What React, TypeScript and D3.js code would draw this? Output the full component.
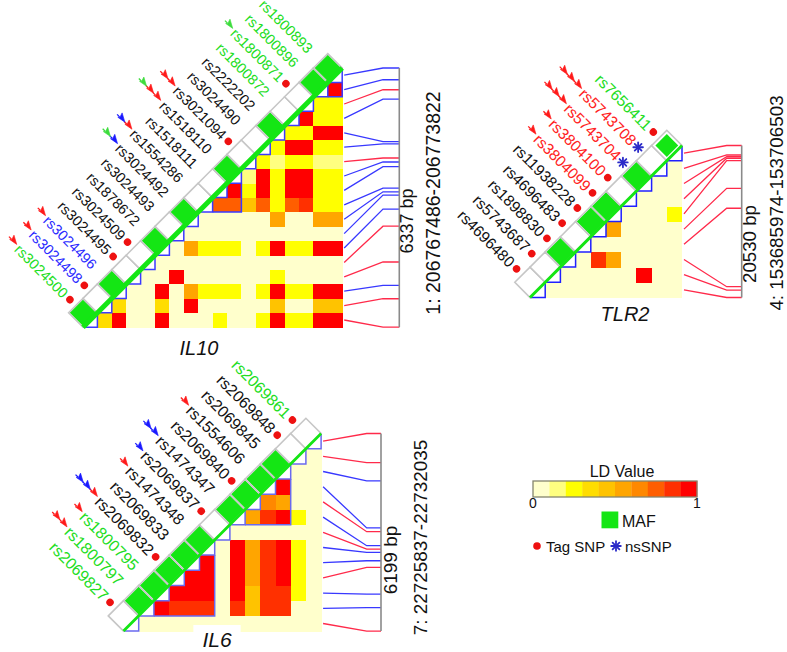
import React from "react";
import * as d3 from "d3";

const FONT = "'Liberation Sans', Arial, Helvetica, sans-serif";

// ---------- shared scales ----------
const LD_COLORS = ["#ffffcc", "#ffff80", "#ffff00", "#ffdd00", "#ffc300", "#ffa500", "#ff8800", "#ff5e00", "#ff3000", "#ff0000"];
const LD_TICKS = ["0", "1"];
const ldColor = d3.scaleQuantize<string>().domain([0, 1]).range(LD_COLORS);
const mafScale = d3.scaleSqrt().domain([0, 0.5]).range([0, 0.97]);

const TEXT_COLORS: Record<string, string> = { k: "#111111", g: "#22dd22", b: "#2a2aff", r: "#ff2222" };
const ARROW_COLORS: Record<string, string> = { r: "#ff1a1a", g: "#3ddc3d", b: "#1a1aff" };
const GREEN = "#14e614";

// ---------- IL10 ----------
const IL10_SNPS = ["rs3024500", "rs3024498", "rs3024496", "rs3024495", "rs3024509", "rs1878672", "rs3024493", "rs3024492", "rs1554286", "rs1518111", "rs1518110", "rs3021094", "rs3024490", "rs2222202", "rs1800872", "rs1800871", "rs1800896", "rs1800893"];
const IL10_POS = [206767486, 206768182, 206768509, 206769080, 206769955, 206770372, 206770715, 206770796, 206770887, 206771409, 206771524, 206771622, 206771966, 206772022, 206773062, 206773290, 206773535, 206773822];
const IL10_MAF = [0.45, 0, 0.45, 0, 0, 0.45, 0, 0.45, 0, 0, 0.45, 0, 0, 0.45, 0, 0, 0.45, 0.45];
const IL10_TAG = [1, 1, 0, 1, 1, 0, 0, 0, 0, 0, 0, 1, 0, 0, 0, 1, 0, 0];
const IL10_NS = [0, 0, 0, 0, 0, 0, 0, 0, 0, 0, 0, 0, 0, 0, 0, 0, 0, 0];
const IL10_LABEL_COLOR = "gbbkkkkkkkkkkkgggg";
const IL10_ARROWS = ["r", "r", "r", "", "", "", "", "gb", "br", "", "grr", "rr", "", "", "", "g", "", ""];
const IL10_BLOCKS = [[8, 10], [16, 17]];
const IL10_LD = [
  [0.35, 0.95, 0, 0, 0.95, 0, 0, 0, 0.25, 0, 0, 0.25, 0.95, 0.25, 0.25, 0.95, 0.95],
  [0.35, 0, 0, 0.35, 0, 0.95, 0, 0, 0, 0, 0, 0.4, 0, 0, 0.4, 0.4],
  [0, 0, 0.95, 0, 0.5, 0.25, 0.25, 0.25, 0, 0.25, 0.95, 0.25, 0.25, 0.95, 0.95],
  [0, 0, 0.95, 0, 0, 0, 0, 0, 0, 0.25, 0, 0, 0, 0],
  [0, 0, 0, 0, 0, 0, 0, 0, 0, 0, 0, 0, 0],
  [0, 0.5, 0.25, 0.25, 0.25, 0, 0.25, 0.95, 0.25, 0.25, 0.95, 0.95],
  [0, 0, 0, 0, 0, 0, 0, 0, 0, 0, 0],
  [0, 0, 0, 0, 0, 0.55, 0, 0, 0.55, 0.55],
  [0.75, 0.75, 0.45, 0.75, 0.25, 0.75, 0.85, 0.25, 0.25],
  [0.95, 0.25, 0.95, 0.25, 0.95, 0.95, 0.25, 0.25],
  [0.15, 0.95, 0.25, 0.95, 0.95, 0.25, 0.25],
  [0.25, 0.15, 0.25, 0.25, 0.15, 0.15],
  [0.25, 0.95, 0.95, 0.25, 0.25],
  [0.25, 0.25, 0.95, 0.95],
  [0.95, 0.25, 0.25],
  [0.25, 0.25],
  [0.95],
];

// ---------- TLR2 ----------
const TLR2_SNPS = ["rs4696480", "rs5743687", "rs1898830", "rs4696483", "rs11938228", "rs3804099", "rs3804100", "rs5743704", "rs5743708", "rs7656411"];
const TLR2_POS = [153685974, 153686980, 153687432, 153698025, 153700714, 153704450, 153704779, 153704984, 153705220, 153706503];
const TLR2_MAF = [0, 0, 0.45, 0, 0.45, 0.45, 0, 0.45, 0, 0.3];
const TLR2_TAG = [1, 1, 1, 1, 1, 1, 1, 1, 1, 1];
const TLR2_NS = [0, 0, 0, 0, 0, 0, 0, 1, 1, 0];
const TLR2_LABEL_COLOR = "kkkkkrrrrg";
const TLR2_ARROWS = ["", "", "", "", "", "r", "r", "rrr", "rrr", ""];
const TLR2_BLOCKS: number[][] = [];
const TLR2_LD = [
  [0, 0, 0, 0, 0, 0, 0, 0, 0],
  [0, 0, 0, 0, 0, 0.95, 0, 0],
  [0, 0.85, 0.55, 0, 0, 0, 0],
  [0, 0, 0, 0, 0, 0],
  [0.55, 0, 0, 0, 0],
  [0, 0, 0, 0.25],
  [0, 0, 0],
  [0, 0],
  [0],
];

// ---------- IL6 ----------
const IL6_SNPS = ["rs2069827", "rs1800797", "rs1800795", "rs2069832", "rs2069833", "rs1474348", "rs2069837", "rs1474347", "rs2069840", "rs1554606", "rs2069845", "rs2069848", "rs2069861"];
const IL6_POS = [22725837, 22726575, 22726996, 22727833, 22728043, 22728304, 22728409, 22728515, 22728955, 22729072, 22730547, 22731124, 22732035];
const IL6_MAF = [0, 0.45, 0.45, 0.45, 0.45, 0.45, 0, 0.45, 0.45, 0.45, 0.45, 0, 0];
const IL6_TAG = [1, 0, 0, 1, 0, 0, 1, 0, 1, 0, 0, 1, 1];
const IL6_NS = [0, 0, 0, 0, 0, 0, 0, 0, 0, 0, 0, 0, 0];
const IL6_LABEL_COLOR = "gggkkkkkkkkkg";
const IL6_ARROWS = ["", "rr", "r", "bbr", "", "r", "b", "bb", "", "r", "", "", ""];
const IL6_BLOCKS = [[1, 5], [7, 10]];
const IL6_LD = [
  [0, 0, 0, 0, 0, 0, 0, 0, 0, 0, 0, 0],
  [0.95, 0.85, 0.85, 0.85, 0, 0.85, 0.45, 0.85, 0.85, 0, 0],
  [0.95, 0.95, 0.95, 0, 0.95, 0.45, 0.85, 0.85, 0.25, 0],
  [0.95, 0.95, 0, 0.95, 0.55, 0.85, 0.95, 0.25, 0],
  [0.95, 0, 0.95, 0.55, 0.85, 0.95, 0.25, 0],
  [0, 0.95, 0.55, 0.85, 0.95, 0.25, 0],
  [0, 0, 0, 0, 0, 0],
  [0.55, 0.85, 0.95, 0.25, 0],
  [0.65, 0.55, 0, 0],
  [0.95, 0, 0],
  [0, 0],
  [0],
];

// ---------- layout (positions/styles only) ----------
type Layout = {
  x0: number; y0: number; s: number; bendX: number; barX: number; labelFs: number; lineW: number;
  bpX: number; bpY: number; bpFs: number; chrX: number; chrY: number; chrFs: number;
  geneX: number; geneY: number; geneFs: number; stair: string;
};

const IL10_LAYOUT: Layout = { x0: 83, y0: 68, s: 14.4, bendX: 383, barX: 399.3, labelFs: 14.5, lineW: 5, bpX: 413, bpY: 221, bpFs: 18, chrX: 440, chrY: 203, chrFs: 19.5, geneX: 199, geneY: 355, geneFs: 20, stair: "#3a3aff" };
const TLR2_LAYOUT: Layout = { x0: 530, y0: 145.5, s: 15.2, bendX: 726.7, barX: 741.7, labelFs: 15.5, lineW: 3, bpX: 756, bpY: 244, bpFs: 18.7, chrX: 783, chrY: 203, chrFs: 18.8, geneX: 625, geneY: 321, geneFs: 20, stair: "#2020ff" };
const IL6_LAYOUT: Layout = { x0: 123.5, y0: 433.5, s: 15.2, bendX: 366.7, barX: 381, labelFs: 16, lineW: 2.8, bpX: 397, bpY: 560, bpFs: 19, chrX: 427, chrY: 537.5, chrFs: 18.9, geneX: 217, geneY: 647, geneFs: 21, stair: "#6a6af0" };

type PanelData = {
  snps: string[]; pos: number[]; maf: number[]; tag: number[]; ns: number[]; labelColor: string; arrows: string[];
  blocks: number[][]; ld: number[][]; chrom: string; start: number; end: number; gene: string; L: Layout;
};

const PANELS: PanelData[] = [
  { snps: IL10_SNPS, pos: IL10_POS, maf: IL10_MAF, tag: IL10_TAG, ns: IL10_NS, labelColor: IL10_LABEL_COLOR, arrows: IL10_ARROWS, blocks: IL10_BLOCKS, ld: IL10_LD, chrom: "1", start: 206767486, end: 206773822, gene: "IL10", L: IL10_LAYOUT },
  { snps: TLR2_SNPS, pos: TLR2_POS, maf: TLR2_MAF, tag: TLR2_TAG, ns: TLR2_NS, labelColor: TLR2_LABEL_COLOR, arrows: TLR2_ARROWS, blocks: TLR2_BLOCKS, ld: TLR2_LD, chrom: "4", start: 153685974, end: 153706503, gene: "TLR2", L: TLR2_LAYOUT },
  { snps: IL6_SNPS, pos: IL6_POS, maf: IL6_MAF, tag: IL6_TAG, ns: IL6_NS, labelColor: IL6_LABEL_COLOR, arrows: IL6_ARROWS, blocks: IL6_BLOCKS, ld: IL6_LD, chrom: "7", start: 22725837, end: 22732035, gene: "IL6", L: IL6_LAYOUT },
];

function textWidth(str: string, fs: number) {
  let w = 0;
  for (const c of str) {
    if (c === "r") w += 0.333;
    else if (c === "s") w += 0.5;
    else w += 0.556;
  }
  return w * fs;
}

function Asterisk({ x, y, r }: { x: number; y: number; r: number }) {
  return (
    <g transform={`translate(${x},${y})`} stroke="#2b2bc8" strokeWidth={1.8} strokeLinecap="round">
      {[0, 45, 90, 135].map((a) => (
        <line key={a} x1={-r} y1={0} x2={r} y2={0} transform={`rotate(${a})`} />
      ))}
    </g>
  );
}

function Panel({ d }: { d: PanelData }) {
  const { L } = d;
  const n = d.snps.length;
  const s = L.s;
  const xc = d3.scaleLinear().domain([0, n]).range([L.x0, L.x0 + n * s]);
  const yr = d3.scaleLinear().domain([0, n]).range([L.y0, L.y0 + n * s]);
  const yPos = d3.scaleLinear().domain([d.end, d.start]).range([L.y0, L.y0 + n * s]);

  const cells: React.ReactNode[] = [];
  d.ld.forEach((row, i) =>
    row.forEach((v, k) => {
      const j = i + 1 + k;
      cells.push(
        <rect key={`c${i}-${j}`} x={xc(j)} y={yr(n - 1 - i)} width={s + 0.4} height={s + 0.4} fill={ldColor(v)} />
      );
    })
  );

  const stair = d3.path();
  stair.moveTo(xc(0), yr(n));
  for (let k = 0; k < n; k++) {
    stair.lineTo(xc(k + 1), yr(n - k));
    stair.lineTo(xc(k + 1), yr(n - 1 - k));
  }

  const blockPaths = d.blocks.map(([a, b]) => {
    const p = d3.path();
    p.moveTo(xc(a + 1), yr(n - a));
    p.lineTo(xc(b + 1), yr(n - a));
    p.lineTo(xc(b + 1), yr(n - b));
    return p.toString();
  });

  const diamonds = d.snps.map((_, i) => {
    const cx = xc(i);
    const cy = yr(n - 1 - i);
    const pts = (h: number) => `${cx - h},${cy} ${cx},${cy - h} ${cx + h},${cy} ${cx},${cy + h}`;
    const g = mafScale(d.maf[i]) * s;
    return (
      <g key={`d${i}`}>
        <polygon points={pts(s)} fill="#ffffff" />
        {g > 0.5 && <polygon points={pts(g)} fill={GREEN} />}
        <polygon points={pts(s)} fill="none" stroke="#c6c6c6" strokeWidth={1.6} />
      </g>
    );
  });

  const diagOff = s / Math.SQRT2;
  const textEnd = -(diagOff + 14.5);
  const dotX = -(diagOff + 8.3);

  const labels = d.snps.map((name, i) => {
    const cx = xc(i);
    const cy = yr(n - 1 - i);
    const tw = textWidth(name, L.labelFs);
    const tStart = textEnd - tw;
    const arr = d.arrows[i].split("").filter(Boolean).reverse();
    return (
      <g key={`l${i}`} transform={`translate(${cx},${cy}) rotate(45)`}>
        <text x={textEnd} y={0} dy="0.35em" textAnchor="end" fontSize={L.labelFs} fontFamily={FONT} fill={TEXT_COLORS[d.labelColor[i]]}>
          {name}
        </text>
        {d.tag[i] === 1 && d.ns[i] === 0 && <circle cx={dotX} cy={0} r={3.7} fill="#ee1111" />}
        {d.ns[i] === 1 && <Asterisk x={dotX} y={0} r={4.8} />}
        {arr.map((c, k) => {
          const tip = tStart - 2 - k * 10;
          return (
            <g key={k} transform={`translate(${tip},-1.5)`} fill={ARROW_COLORS[c]} stroke={ARROW_COLORS[c]}>
              <path d="M0,0 L-8.5,-4.6 L-7,0 L-8.5,1.5 Z" strokeWidth={0.6} />
              <line x1={-7.5} y1={0} x2={-11} y2={0} strokeWidth={1.3} />
            </g>
          );
        })}
      </g>
    );
  });

  const connectors = d.snps.map((_, i) => {
    const p = d3.path();
    p.moveTo(xc(n) + 2, yr(n - 1 - i) + s / 2);
    p.lineTo(L.bendX, yPos(d.pos[i]));
    p.lineTo(L.barX, yPos(d.pos[i]));
    return (
      <path key={`k${i}`} d={p.toString()} fill="none" stroke={d.tag[i] ? "#ff2a4a" : "#3838ff"} strokeWidth={1.3} />
    );
  });

  const geneW = d.gene.length * L.geneFs * 0.56 + 12;

  return (
    <g>
      <g shapeRendering="crispEdges">{cells}</g>
      <path d={stair.toString()} fill="none" stroke={L.stair} strokeWidth={1.5} />
      {blockPaths.map((p, k) => (
        <path key={`b${k}`} d={p} fill="none" stroke={L.stair} strokeWidth={1.5} />
      ))}
      {diamonds}
      <line x1={xc(0)} y1={yr(n)} x2={xc(n)} y2={yr(0)} stroke={GREEN} strokeWidth={L.lineW} />
      {labels}
      {connectors}
      <line x1={L.barX} y1={yr(0)} x2={L.barX} y2={yr(n)} stroke="#8a8a8a" strokeWidth={1.6} />
      <text transform={`translate(${L.bpX},${L.bpY}) rotate(-90)`} textAnchor="middle" fontSize={L.bpFs} fontFamily={FONT} fill="#111">
        {`${d.end - d.start + 1} bp`}
      </text>
      <text transform={`translate(${L.chrX},${L.chrY}) rotate(-90)`} textAnchor="middle" fontSize={L.chrFs} fontFamily={FONT} fill="#111">
        {`${d.chrom}: ${d.start}-${d.end}`}
      </text>
      <rect x={L.geneX - geneW / 2} y={L.geneY - 22} width={geneW} height={30} fill="#ffffff" />
      <text x={L.geneX} y={L.geneY} textAnchor="middle" fontSize={L.geneFs} fontStyle="italic" fontFamily={FONT} fill="#111">
        {d.gene}
      </text>
    </g>
  );
}

function Legend() {
  const x0 = 533, x1 = 697, y = 481, h = 16;
  const band = d3.scaleBand<number>().domain(d3.range(LD_COLORS.length)).range([x0, x1]);
  const tick = d3.scaleLinear().domain([0, 1]).range([x0, x1]);
  return (
    <g fontFamily={FONT} fill="#111">
      <text x={622} y={477} textAnchor="middle" fontSize={16}>LD Value</text>
      {LD_COLORS.map((c, i) => (
        <rect key={i} x={band(i)} y={y} width={band.bandwidth() + 0.3} height={h} fill={c} />
      ))}
      <rect x={x0} y={y} width={x1 - x0} height={h} fill="none" stroke="#85856e" strokeWidth={1.3} />
      {LD_TICKS.map((t, i) => (
        <text key={t} x={tick(i)} y={508} textAnchor="middle" fontSize={14}>{t}</text>
      ))}
      <rect x={601.5} y={511.5} width={16.8} height={16.8} fill={GREEN} />
      <text x={622} y={527} fontSize={16}>MAF</text>
      <circle cx={537} cy={546} r={3.8} fill="#ee1111" />
      <text x={546} y={551.5} fontSize={15}>Tag SNP</text>
      <Asterisk x={616} y={546} r={4.8} />
      <text x={625} y={551.5} fontSize={15}>nsSNP</text>
    </g>
  );
}

export default function App() {
  return (
    <svg width={787} height={652} style={{ position: "absolute", left: 0, top: 0, background: "#fff" }}>
      <rect x={0} y={0} width={787} height={652} fill="#ffffff" />
      {PANELS.map((p) => (
        <Panel key={p.gene} d={p} />
      ))}
      <Legend />
    </svg>
  );
}
